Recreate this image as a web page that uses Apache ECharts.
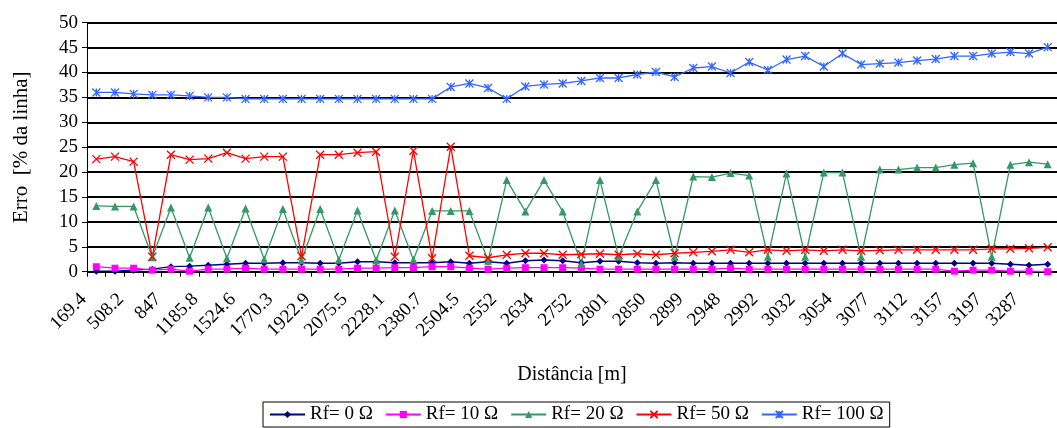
<!DOCTYPE html>
<html>
<head>
<meta charset="utf-8">
<script src="https://cdn.jsdelivr.net/npm/echarts@6/dist/echarts.min.js"></script>
<style>
html,body{margin:0;padding:0;background:#fff;}
#c{width:1057px;height:428px;}
</style>
</head>
<body>
<div id="c"></div>
<script>
var categories = ['169.4','338.8','508.2','677.6','847','1016.4','1185.8','1355.2','1524.6','1647.5',
  '1770.3','1846.6','1922.9','1999.2','2075.5','2151.8','2228.1','2304.4','2380.7','2442.6',
  '2504.5','2528','2552','2593','2634','2693','2752','2777','2801','2826',
  '2850','2875','2899','2924','2948','2970','2992','3012','3032','3043',
  '3054','3066','3077','3095','3112','3135','3157','3177','3197','3242',
  '3287','3330'];

var rf0 = [0.1,0.1,0.3,0.5,1.0,1.1,1.3,1.5,1.7,1.7,
  1.8,1.8,1.7,1.7,2.0,2.0,1.8,1.8,1.8,2.0,
  1.7,2.0,1.7,2.2,2.35,2.2,1.8,2.1,2.1,1.8,
  1.7,1.8,1.7,1.7,1.7,1.7,1.7,1.7,1.7,1.7,
  1.7,1.7,1.7,1.7,1.7,1.7,1.7,1.7,1.7,1.5,
  1.3,1.5];

var rf10 = [1.0,0.7,0.7,0.3,0.5,0.1,0.5,0.5,0.7,0.5,
  0.5,0.5,0.5,0.5,0.7,0.7,0.8,0.8,1.0,1.0,
  0.7,0.5,0.7,0.8,0.8,0.8,0.7,0.5,0.5,0.5,
  0.5,0.5,0.5,0.5,0.7,0.5,0.5,0.5,0.5,0.5,
  0.5,0.5,0.5,0.5,0.5,0.5,0.1,0.3,0.3,0.1,
  0.1,0.0];

var rf20 = [13.2,13.1,13.1,2.9,12.9,2.8,12.9,2.7,12.7,2.5,
  12.6,2.3,12.6,2.4,12.3,2.3,12.3,2.4,12.2,12.2,
  12.2,2.2,18.4,12.1,18.4,12.1,1.6,18.4,3.0,12.1,
  18.4,3.0,19.1,19.0,19.8,19.3,3.0,19.7,3.0,19.9,
  19.9,3.0,20.5,20.5,20.9,20.9,21.5,21.8,3.0,21.5,
  22.0,21.6];

var rf50 = [22.6,23.1,22.1,3.0,23.5,22.5,22.7,23.9,22.7,23.1,
  23.1,3.1,23.5,23.5,23.9,24.1,3.0,24.3,2.7,25.1,
  3.2,2.8,3.4,3.7,3.7,3.4,3.5,3.6,3.4,3.6,
  3.4,3.7,3.9,4.1,4.4,3.9,4.4,4.2,4.4,4.2,
  4.4,4.2,4.3,4.4,4.4,4.4,4.4,4.4,4.6,4.6,
  4.7,4.9];

var rf100 = [36.0,36.0,35.7,35.5,35.5,35.3,35.0,35.0,34.7,34.7,
  34.7,34.7,34.7,34.7,34.7,34.7,34.7,34.7,34.7,37.1,
  37.8,36.9,34.7,37.2,37.6,37.8,38.3,38.9,38.9,39.6,
  40.1,39.1,40.9,41.2,39.9,42.1,40.5,42.6,43.3,41.2,
  43.8,41.6,41.8,42.0,42.4,42.7,43.3,43.3,43.8,44.1,
  43.8,45.1];

var yTicks = [0,5,10,15,20,25,30,35,40,45,50];
var seriesNames = ['Rf= 0 \u03A9','Rf= 10 \u03A9','Rf= 20 \u03A9','Rf= 50 \u03A9','Rf= 100 \u03A9'];

var FONT = "'Liberation Serif','Times New Roman',serif";
var crossPath = 'path://M0,0L10,10M10,0L0,10';
var starPath = 'path://M5,0L5,10M0,0L10,10M10,0L0,10';

function mk(name, data, color, symbol, size, strokeOnly) {
  return {
    name: name, type: 'line', data: data,
    symbol: symbol, symbolSize: size,
    showSymbol: true,
    lineStyle: {color: color, width: 1.3},
    itemStyle: strokeOnly ? {color: color, borderColor: color, borderWidth: 1.3} : {color: color, borderWidth: 0},
    emphasis: {disabled: true},
    animation: false
  };
}

var chart = echarts.init(document.getElementById('c'), null, {renderer: 'canvas'});
chart.setOption({
  animation: false,
  backgroundColor: '#fff',
  textStyle: {fontFamily: FONT, color: '#000'},
  grid: {left: 87, top: 22.7, width: 977, height: 249, containLabel: false},
  xAxis: {
    type: 'category', data: categories, boundaryGap: true,
    name: 'Dist\u00e2ncia [m]', nameLocation: 'middle', nameGap: 93,
    nameTextStyle: {fontFamily: FONT, fontSize: 20, color: '#000'},
    axisLine: {lineStyle: {color: '#000', width: 1}},
    axisTick: {show: true, interval: 0, length: 5, lineStyle: {color: '#000'}},
    axisLabel: {interval: 1, rotate: 45, fontFamily: FONT, fontSize: 19, color: '#000', margin: 12, padding: [0, 18, 0, 0]},
    splitLine: {show: false}
  },
  yAxis: {
    type: 'value', min: yTicks[0], max: yTicks[yTicks.length-1], interval: 5,
    name: 'Erro  [% da linha]', nameLocation: 'middle', nameGap: 55,
    nameTextStyle: {fontFamily: FONT, fontSize: 21, color: '#000'},
    axisLine: {show: true, lineStyle: {color: '#000', width: 1}},
    axisTick: {show: true, length: 5, lineStyle: {color: '#000'}},
    axisLabel: {fontFamily: FONT, fontSize: 19, color: '#000', margin: 9},
    splitLine: {show: true, lineStyle: {color: '#000', width: 2}}
  },
  legend: {
    show: true, left: 263, top: 402,
    data: seriesNames,
    orient: 'horizontal',
    borderColor: '#000', borderWidth: 1, borderRadius: 0,
    padding: [3, 6, 3, 6],
    itemGap: 12, itemWidth: 35, itemHeight: 9,
    textStyle: {fontFamily: FONT, fontSize: 19, color: '#000'}
  },
  series: [
    mk(seriesNames[0], rf0, '#000080', 'diamond', 7, false),
    mk(seriesNames[1], rf10, '#FF00FF', 'rect', 7, false),
    mk(seriesNames[2], rf20, '#339966', 'triangle', 8, false),
    mk(seriesNames[3], rf50, '#FF0000', crossPath, 8, true),
    mk(seriesNames[4], rf100, '#3366FF', starPath, 8, true)
  ]
});
</script>
</body>
</html>
